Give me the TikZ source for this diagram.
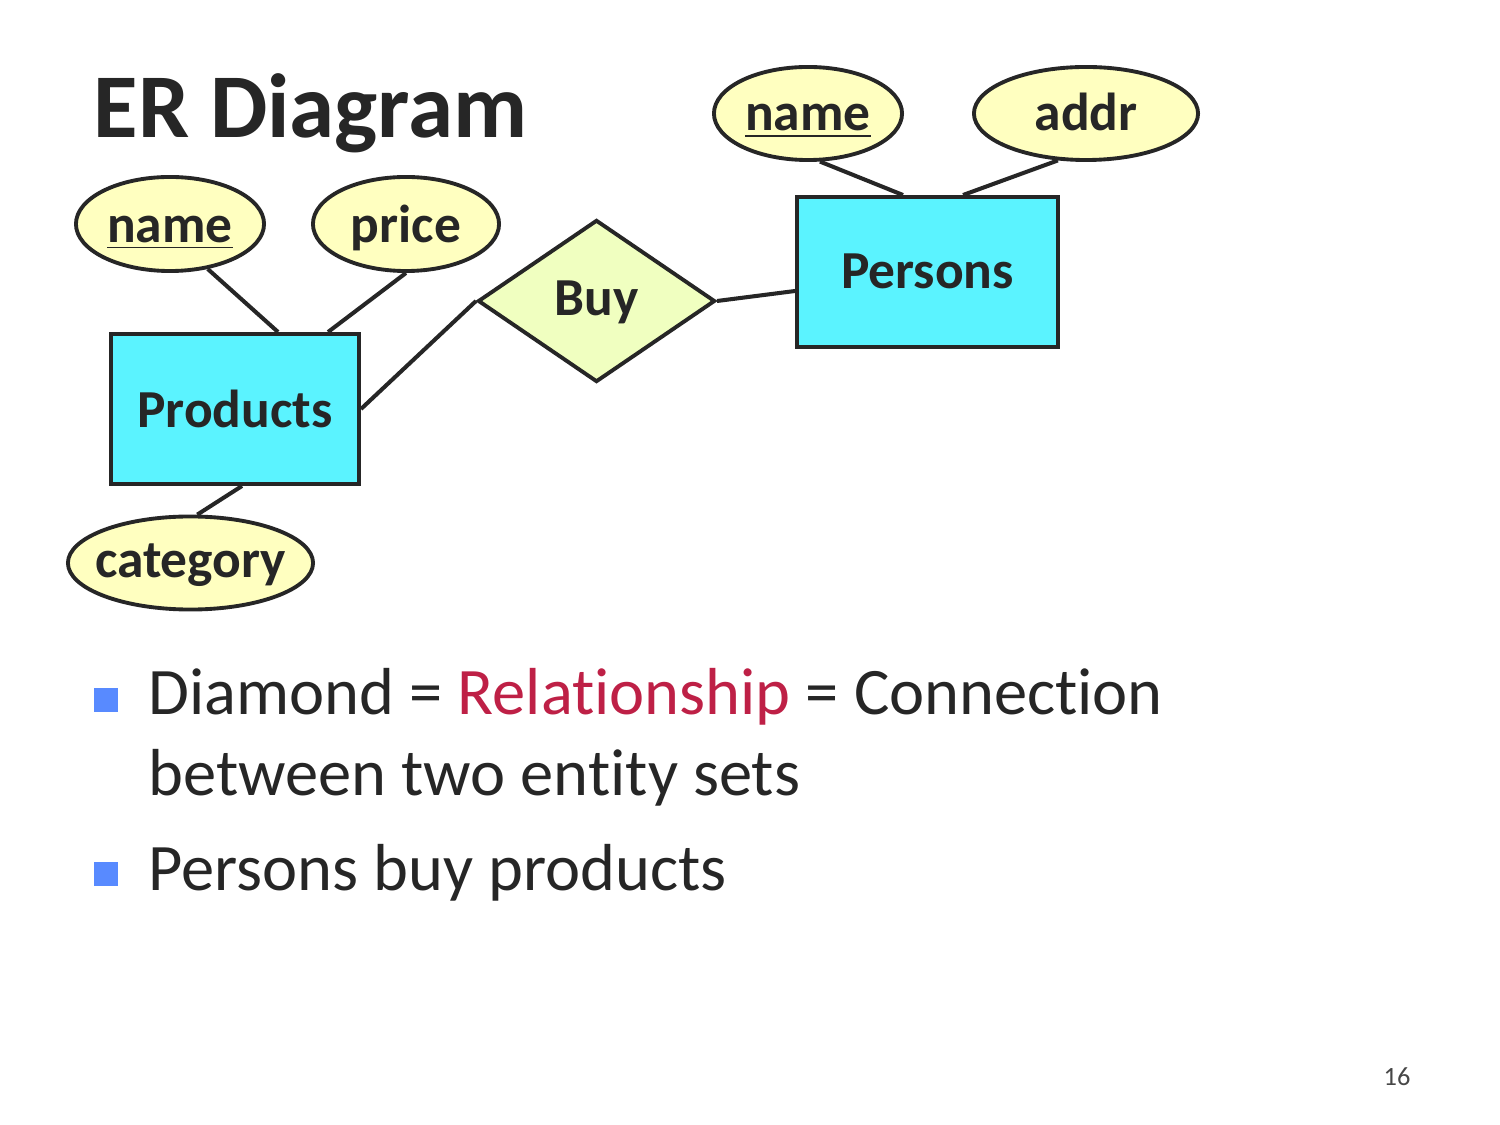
\documentclass[tikz,border=0pt]{standalone}
\usepackage{fontspec}
\setmainfont{Carlito}[Ligatures=NoCommon,RawFeature={-liga}]
\usetikzlibrary{shapes.geometric}
\definecolor{ink}{RGB}{38,38,38}
\definecolor{entfill}{RGB}{91,243,255}
\definecolor{attrfill}{RGB}{255,255,192}
\definecolor{relfill}{RGB}{240,255,192}
\definecolor{relred}{RGB}{190,32,70}
\definecolor{bulletblue}{RGB}{88,138,255}
\newcommand{\centxt}[2]{\raisebox{-#2}[0pt][0pt]{\makebox[0pt]{#1}}}
\begin{document}
\begin{tikzpicture}[x=0.01cm,y=-0.01cm,
  attr/.style={ellipse,draw=ink,fill=attrfill,line width=1.1pt,inner sep=0pt,
    font=\fontsize{15.2}{18}\selectfont\bfseries,text=ink},
  entity/.style={rectangle,draw=ink,fill=entfill,line width=1.1pt,inner sep=0pt,
    font=\fontsize{15.2}{18}\selectfont\bfseries,text=ink},
  rel/.style={diamond,draw=ink,fill=relfill,line width=1.1pt,inner sep=0pt,
    font=\fontsize{15.2}{18}\selectfont\bfseries,text=ink},
  link/.style={draw=ink,line width=1.15pt},
  txt/.style={inner sep=0pt,text=ink},
  bul/.style={rectangle,fill=bulletblue,inner sep=0pt,minimum size=0.24cm}
]
\path[use as bounding box,fill=white] (0,0) rectangle (1500,1125);

% title
\node[txt,anchor=base west,font=\fontsize{25.9}{30}\selectfont\bfseries] (title) at (93,138) {ER Diagram};

% entities
\node[entity,minimum width=2.48cm,minimum height=1.50cm] (products) at (235,409) {\centxt{Products}{0.18cm}};
\node[entity,minimum width=2.61cm,minimum height=1.50cm] (persons) at (927.5,272) {\centxt{Persons}{0.16cm}};

% relationship
\node[rel,minimum width=2.37cm,minimum height=1.62cm] (buy) at (596.5,301) {\centxt{Buy}{0.14cm}};

% attributes
\node[attr,minimum width=1.88cm,minimum height=0.94cm] (pname) at (170,224) {\centxt{\underline{name}}{0.18cm}};
\node[attr,minimum width=1.86cm,minimum height=0.94cm] (price) at (406,224) {\centxt{price}{0.18cm}};
\node[attr,minimum width=2.45cm,minimum height=0.93cm] (cat) at (190.5,563) {\centxt{category}{0.14cm}};
\node[attr,minimum width=1.88cm,minimum height=0.93cm] (sname) at (808,113.5) {\centxt{\underline{name}}{0.17cm}};
\node[attr,minimum width=2.24cm,minimum height=0.93cm] (addr) at (1086,113.5) {\centxt{addr}{0.17cm}};

% connectors
\draw[link] (pname.-50) -- ([xshift=0.43cm]products.north);
\draw[link] (price.south) -- ([xshift=0.93cm]products.north);
\draw[link] (cat.82) -- ([xshift=0.07cm]products.south);
\draw[link] (products.east) -- (buy.west);
\draw[link] (buy.east) -- ([yshift=-0.19cm]persons.west);
\draw[link] (sname.-76) -- ([xshift=-0.245cm]persons.north);
\draw[link] (addr.-121) -- ([xshift=0.355cm]persons.north);

% bullets
\node[bul] (b1) at (106,700) {};
\node[bul] (b2) at (106,874) {};
\node[txt,anchor=base west,font=\fontsize{18.9}{22}\selectfont] (l1) at (148,715)
  {Diamond = \textcolor{relred}{Relationship} = Connection};
\node[txt,anchor=base west,font=\fontsize{18.9}{22}\selectfont] (l2) at (148,795)
  {between two entity sets};
\node[txt,anchor=base west,font=\fontsize{18.9}{22}\selectfont] (l3) at (148,890)
  {Persons buy products};

% page number
\node[txt,anchor=base,font=\fontsize{7.5}{9}\selectfont,text=ink!85] (page) at (1397,1085) {16};
\end{tikzpicture}
\end{document}
